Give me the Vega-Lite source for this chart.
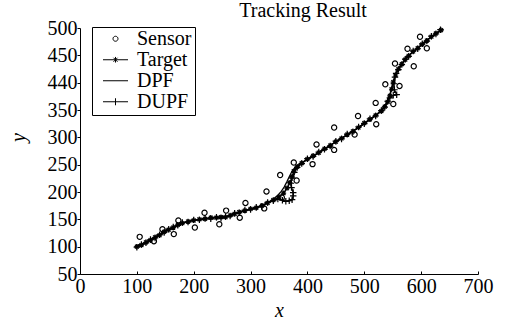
{
  "$schema": "https://vega.github.io/schema/vega-lite/v6.json",
  "autosize": {"type": "none"},
  "padding": {"left": 80, "top": 28, "right": 32, "bottom": 52},
  "width": 398,
  "height": 246,
  "background": "white",
  "title": {"text": "Tracking Result", "font": "Liberation Serif, Times New Roman, serif", "fontSize": 20, "fontWeight": "normal", "color": "black", "dx": 24, "offset": -19, "baseline": "alphabetic", "frame": "group"},
  "config": {
    "view": {"stroke": null},
    "axis": {"domainColor": "black", "tickColor": "black", "labelColor": "black", "titleColor": "black", "grid": false, "labelFont": "Liberation Serif", "labelFontSize": 20, "titleFont": "Liberation Serif", "titleFontSize": 20, "titleFontStyle": "italic", "titleFontWeight": "normal", "domainWidth": 1, "tickWidth": 1, "labelOverlap": false, "labelBound": false, "labelFlush": false, "labelSeparation": 0}
  },
  "resolve": {"scale": {"shape": "independent"}, "legend": {"shape": "independent"}},
  "datasets": {
    "pts": [
      {"s":"Target","i":0,"x":100,"y":100},{"s":"Target","i":1,"x":108,"y":103},{"s":"Target","i":2,"x":116,"y":108},{"s":"Target","i":3,"x":124,"y":112},{"s":"Target","i":4,"x":132,"y":117},{"s":"Target","i":5,"x":140,"y":121},{"s":"Target","i":6,"x":148,"y":127},{"s":"Target","i":7,"x":156,"y":131},{"s":"Target","i":8,"x":164,"y":135},{"s":"Target","i":9,"x":172,"y":140},{"s":"Target","i":10,"x":180,"y":143},{"s":"Target","i":11,"x":190,"y":146},{"s":"Target","i":12,"x":200,"y":148},{"s":"Target","i":13,"x":210,"y":150},{"s":"Target","i":14,"x":220,"y":151},{"s":"Target","i":15,"x":230,"y":153},{"s":"Target","i":16,"x":240,"y":153},{"s":"Target","i":17,"x":248,"y":154},{"s":"Target","i":18,"x":256,"y":154},{"s":"Target","i":19,"x":264,"y":157},{"s":"Target","i":20,"x":272,"y":160},{"s":"Target","i":21,"x":280,"y":163},{"s":"Target","i":22,"x":290,"y":166},{"s":"Target","i":23,"x":300,"y":169},{"s":"Target","i":24,"x":310,"y":171},{"s":"Target","i":25,"x":320,"y":175},{"s":"Target","i":26,"x":330,"y":180},{"s":"Target","i":27,"x":340,"y":185},{"s":"Target","i":28,"x":350,"y":191},{"s":"Target","i":29,"x":358,"y":198},{"s":"Target","i":30,"x":364,"y":207},{"s":"Target","i":31,"x":369,"y":217},{"s":"Target","i":32,"x":373,"y":228},{"s":"Target","i":33,"x":376,"y":238},{"s":"Target","i":34,"x":382,"y":246},{"s":"Target","i":35,"x":390,"y":253},{"s":"Target","i":36,"x":400,"y":260},{"s":"Target","i":37,"x":410,"y":266},{"s":"Target","i":38,"x":420,"y":272},{"s":"Target","i":39,"x":430,"y":279},{"s":"Target","i":40,"x":440,"y":285},{"s":"Target","i":41,"x":450,"y":292},{"s":"Target","i":42,"x":460,"y":298},{"s":"Target","i":43,"x":470,"y":305},{"s":"Target","i":44,"x":480,"y":311},{"s":"Target","i":45,"x":490,"y":318},{"s":"Target","i":46,"x":500,"y":326},{"s":"Target","i":47,"x":510,"y":333},{"s":"Target","i":48,"x":520,"y":340},{"s":"Target","i":49,"x":530,"y":348},{"s":"Target","i":50,"x":536,"y":356},{"s":"Target","i":51,"x":541,"y":365},{"s":"Target","i":52,"x":545,"y":376},{"s":"Target","i":53,"x":548,"y":388},{"s":"Target","i":54,"x":551,"y":401},{"s":"Target","i":55,"x":555,"y":414},{"s":"Target","i":56,"x":560,"y":425},{"s":"Target","i":57,"x":566,"y":434},{"s":"Target","i":58,"x":572,"y":442},{"s":"Target","i":59,"x":578,"y":449},{"s":"Target","i":60,"x":586,"y":457},{"s":"Target","i":61,"x":594,"y":463},{"s":"Target","i":62,"x":602,"y":470},{"s":"Target","i":63,"x":610,"y":477},{"s":"Target","i":64,"x":618,"y":484},{"s":"Target","i":65,"x":626,"y":490},{"s":"Target","i":66,"x":635,"y":496},
      {"s":"DPF","i":0,"x":100,"y":101},{"s":"DPF","i":1,"x":110,"y":105},{"s":"DPF","i":2,"x":120,"y":110},{"s":"DPF","i":3,"x":130,"y":116},{"s":"DPF","i":4,"x":140,"y":122},{"s":"DPF","i":5,"x":150,"y":128},{"s":"DPF","i":6,"x":160,"y":133},{"s":"DPF","i":7,"x":170,"y":139},{"s":"DPF","i":8,"x":180,"y":143},{"s":"DPF","i":9,"x":190,"y":146},{"s":"DPF","i":10,"x":200,"y":149},{"s":"DPF","i":11,"x":210,"y":150},{"s":"DPF","i":12,"x":220,"y":151},{"s":"DPF","i":13,"x":230,"y":152},{"s":"DPF","i":14,"x":240,"y":154},{"s":"DPF","i":15,"x":250,"y":154},{"s":"DPF","i":16,"x":260,"y":156},{"s":"DPF","i":17,"x":270,"y":159},{"s":"DPF","i":18,"x":280,"y":163},{"s":"DPF","i":19,"x":290,"y":166},{"s":"DPF","i":20,"x":300,"y":168},{"s":"DPF","i":21,"x":310,"y":172},{"s":"DPF","i":22,"x":320,"y":175},{"s":"DPF","i":23,"x":330,"y":180},{"s":"DPF","i":24,"x":340,"y":187},{"s":"DPF","i":25,"x":348,"y":194},{"s":"DPF","i":26,"x":354,"y":201},{"s":"DPF","i":27,"x":359,"y":209},{"s":"DPF","i":28,"x":364,"y":219},{"s":"DPF","i":29,"x":368,"y":228},{"s":"DPF","i":30,"x":372,"y":236},{"s":"DPF","i":31,"x":376,"y":242},{"s":"DPF","i":32,"x":382,"y":248},{"s":"DPF","i":33,"x":390,"y":254},{"s":"DPF","i":34,"x":400,"y":259},{"s":"DPF","i":35,"x":410,"y":265},{"s":"DPF","i":36,"x":420,"y":272},{"s":"DPF","i":37,"x":430,"y":278},{"s":"DPF","i":38,"x":440,"y":286},{"s":"DPF","i":39,"x":450,"y":291},{"s":"DPF","i":40,"x":460,"y":299},{"s":"DPF","i":41,"x":470,"y":304},{"s":"DPF","i":42,"x":480,"y":312},{"s":"DPF","i":43,"x":490,"y":318},{"s":"DPF","i":44,"x":500,"y":325},{"s":"DPF","i":45,"x":510,"y":332},{"s":"DPF","i":46,"x":520,"y":341},{"s":"DPF","i":47,"x":530,"y":349},{"s":"DPF","i":48,"x":536,"y":357},{"s":"DPF","i":49,"x":541,"y":367},{"s":"DPF","i":50,"x":545,"y":378},{"s":"DPF","i":51,"x":548,"y":390},{"s":"DPF","i":52,"x":551,"y":403},{"s":"DPF","i":53,"x":555,"y":415},{"s":"DPF","i":54,"x":560,"y":426},{"s":"DPF","i":55,"x":566,"y":435},{"s":"DPF","i":56,"x":572,"y":443},{"s":"DPF","i":57,"x":578,"y":450},{"s":"DPF","i":58,"x":586,"y":456},{"s":"DPF","i":59,"x":594,"y":463},{"s":"DPF","i":60,"x":602,"y":471},{"s":"DPF","i":61,"x":610,"y":478},{"s":"DPF","i":62,"x":618,"y":483},{"s":"DPF","i":63,"x":626,"y":489},{"s":"DPF","i":64,"x":634,"y":495},
      {"s":"DUPF","i":0,"x":100,"y":99},{"s":"DUPF","i":1,"x":108,"y":104},{"s":"DUPF","i":2,"x":116,"y":107},{"s":"DUPF","i":3,"x":124,"y":113},{"s":"DUPF","i":4,"x":132,"y":116},{"s":"DUPF","i":5,"x":140,"y":122},{"s":"DUPF","i":6,"x":148,"y":126},{"s":"DUPF","i":7,"x":156,"y":132},{"s":"DUPF","i":8,"x":164,"y":136},{"s":"DUPF","i":9,"x":172,"y":139},{"s":"DUPF","i":10,"x":180,"y":144},{"s":"DUPF","i":11,"x":190,"y":145},{"s":"DUPF","i":12,"x":200,"y":149},{"s":"DUPF","i":13,"x":210,"y":149},{"s":"DUPF","i":14,"x":220,"y":152},{"s":"DUPF","i":15,"x":230,"y":151},{"s":"DUPF","i":16,"x":240,"y":154},{"s":"DUPF","i":17,"x":248,"y":152},{"s":"DUPF","i":18,"x":256,"y":155},{"s":"DUPF","i":19,"x":264,"y":156},{"s":"DUPF","i":20,"x":272,"y":161},{"s":"DUPF","i":21,"x":280,"y":162},{"s":"DUPF","i":22,"x":290,"y":167},{"s":"DUPF","i":23,"x":300,"y":168},{"s":"DUPF","i":24,"x":310,"y":172},{"s":"DUPF","i":25,"x":320,"y":174},{"s":"DUPF","i":26,"x":330,"y":181},{"s":"DUPF","i":27,"x":340,"y":184},{"s":"DUPF","i":28,"x":348,"y":187},{"s":"DUPF","i":29,"x":356,"y":185},{"s":"DUPF","i":30,"x":362,"y":183},{"s":"DUPF","i":31,"x":368,"y":184},{"s":"DUPF","i":32,"x":373,"y":186},{"s":"DUPF","i":33,"x":375,"y":193},{"s":"DUPF","i":34,"x":375,"y":199},{"s":"DUPF","i":35,"x":372,"y":208},{"s":"DUPF","i":36,"x":371,"y":216},{"s":"DUPF","i":37,"x":373,"y":226},{"s":"DUPF","i":38,"x":377,"y":236},{"s":"DUPF","i":39,"x":382,"y":245},{"s":"DUPF","i":40,"x":390,"y":252},{"s":"DUPF","i":41,"x":400,"y":261},{"s":"DUPF","i":42,"x":410,"y":265},{"s":"DUPF","i":43,"x":420,"y":273},{"s":"DUPF","i":44,"x":430,"y":278},{"s":"DUPF","i":45,"x":440,"y":284},{"s":"DUPF","i":46,"x":450,"y":293},{"s":"DUPF","i":47,"x":460,"y":297},{"s":"DUPF","i":48,"x":470,"y":306},{"s":"DUPF","i":49,"x":480,"y":310},{"s":"DUPF","i":50,"x":490,"y":319},{"s":"DUPF","i":51,"x":500,"y":325},{"s":"DUPF","i":52,"x":510,"y":334},{"s":"DUPF","i":53,"x":520,"y":339},{"s":"DUPF","i":54,"x":530,"y":349},{"s":"DUPF","i":55,"x":536,"y":355},{"s":"DUPF","i":56,"x":541,"y":366},{"s":"DUPF","i":57,"x":545,"y":372},{"s":"DUPF","i":58,"x":551,"y":377},{"s":"DUPF","i":59,"x":557,"y":378},{"s":"DUPF","i":60,"x":553,"y":387},{"s":"DUPF","i":61,"x":552,"y":398},{"s":"DUPF","i":62,"x":554,"y":410},{"s":"DUPF","i":63,"x":556,"y":417},{"s":"DUPF","i":64,"x":560,"y":424},{"s":"DUPF","i":65,"x":566,"y":433},{"s":"DUPF","i":66,"x":572,"y":443},{"s":"DUPF","i":67,"x":578,"y":448},{"s":"DUPF","i":68,"x":586,"y":458},{"s":"DUPF","i":69,"x":594,"y":462},{"s":"DUPF","i":70,"x":602,"y":471},{"s":"DUPF","i":71,"x":610,"y":476},{"s":"DUPF","i":72,"x":618,"y":485},{"s":"DUPF","i":73,"x":626,"y":489},{"s":"DUPF","i":74,"x":634,"y":497},
      {"s":"Sensor","i":0,"x":105,"y":118},{"s":"Sensor","i":1,"x":130,"y":110},{"s":"Sensor","i":2,"x":145,"y":132},{"s":"Sensor","i":3,"x":165,"y":123},{"s":"Sensor","i":4,"x":173,"y":148},{"s":"Sensor","i":5,"x":202,"y":135},{"s":"Sensor","i":6,"x":219,"y":162},{"s":"Sensor","i":7,"x":245,"y":141},{"s":"Sensor","i":8,"x":257,"y":166},{"s":"Sensor","i":9,"x":281,"y":153},{"s":"Sensor","i":10,"x":291,"y":180},{"s":"Sensor","i":11,"x":324,"y":170},{"s":"Sensor","i":12,"x":328,"y":201},{"s":"Sensor","i":13,"x":352,"y":231},{"s":"Sensor","i":14,"x":355,"y":190},{"s":"Sensor","i":15,"x":376,"y":254},{"s":"Sensor","i":16,"x":381,"y":221},{"s":"Sensor","i":17,"x":409,"y":251},{"s":"Sensor","i":18,"x":416,"y":287},{"s":"Sensor","i":19,"x":447,"y":318},{"s":"Sensor","i":20,"x":447,"y":277},{"s":"Sensor","i":21,"x":483,"y":305},{"s":"Sensor","i":22,"x":489,"y":339},{"s":"Sensor","i":23,"x":520,"y":363},{"s":"Sensor","i":24,"x":521,"y":324},{"s":"Sensor","i":25,"x":537,"y":397},{"s":"Sensor","i":26,"x":551,"y":361},{"s":"Sensor","i":27,"x":554,"y":435},{"s":"Sensor","i":28,"x":562,"y":394},{"s":"Sensor","i":29,"x":576,"y":462},{"s":"Sensor","i":30,"x":587,"y":430},{"s":"Sensor","i":31,"x":598,"y":484},{"s":"Sensor","i":32,"x":610,"y":463}
    ]
  },
  "data": {"name": "pts"},
  "encoding": {
    "x": {"field": "x", "type": "quantitative", "scale": {"domain": [0, 700], "nice": false},
      "axis": {"values": [0,100,200,300,400,500,600,700], "title": "x", "tickSize": -3, "labelPadding": 5, "titleY": 36, "titleBaseline": "middle", "labelOverlap": false}},
    "y": {"field": "y", "type": "quantitative", "scale": {"domain": [50, 500], "nice": false, "zero": false},
      "axis": {"values": [50,100,150,200,250,300,350,400,450,500], "title": "y", "tickSize": 3, "labelPadding": 0, "labelOverlap": false, "tickCount": 10, "labelExpr": "datum.value == 400 ? '440' : datum.label", "titleX": -62, "titleY": 109, "titleAlign": "center", "titleBaseline": "middle"}}
  },
  "layer": [
    {
      "transform": [{"filter": "datum.s != 'Sensor'"}],
      "mark": {"type": "line", "color": "black", "strokeWidth": 1.3},
      "encoding": {
        "detail": {"field": "s"},
        "order": {"field": "i", "type": "quantitative"}
      }
    },
    {
      "transform": [{"filter": "datum.s != 'DPF'"}],
      "mark": {"type": "point", "filled": false, "color": "black", "strokeWidth": 1.2, "size": 42, "opacity": 1},
      "encoding": {
        "shape": {"field": "s", "type": "nominal",
          "scale": {"domain": ["Sensor", "Target", "DUPF"],
                    "range": ["M0.8,0A0.8,0.8,0,1,1,-0.8,0A0.8,0.8,0,1,1,0.8,0Z", "M-0.8,0L0.8,0M0,-0.8L0,0.8M-0.6,-0.6L0.6,0.6M-0.6,0.6L0.6,-0.6", "M-1,0L1,0M0,-1L0,1"]},
          "legend": null
        },
        "order": {"field": "i", "type": "quantitative"}
      }
    },
    {
      "transform": [{"filter": "datum.i == 0"}],
      "mark": {"type": "point", "filled": false, "color": "black", "strokeWidth": 1, "size": 400, "opacity": 0},
      "encoding": {
        "shape": {"field": "s", "type": "nominal",
          "scale": {"domain": ["Sensor", "Target", "DPF", "DUPF"],
                    "range": ["M0.25,0A0.25,0.25,0,1,1,-0.25,0A0.25,0.25,0,1,1,0.25,0Z", "M-1.25,0L1.25,0M-0.2,-0.2L0.2,0.2M-0.2,0.2L0.2,-0.2M0,-0.28L0,0.28", "M-1.25,0L1.25,0", "M-1.25,0L1.25,0M0,-0.35L0,0.35"]},
          "legend": {
            "title": null, "orient": "none", "legendX": 12, "legendY": -1,
            "strokeColor": "black", "fillColor": "white", "padding": 3, "rowPadding": 0, "cornerRadius": 0, "clipHeight": 17.5,
            "symbolSize": 400, "symbolOffset": 10, "symbolStrokeWidth": 1, "symbolStrokeColor": "black", "symbolFillColor": "transparent", "symbolOpacity": 1,
            "labelFont": "Liberation Serif", "labelFontSize": 20, "labelColor": "black", "labelOffset": 11,
            "labelExpr": "datum.label + '\u00a0\u00a0'"
          }
        }
      }
    }
  ]
}
